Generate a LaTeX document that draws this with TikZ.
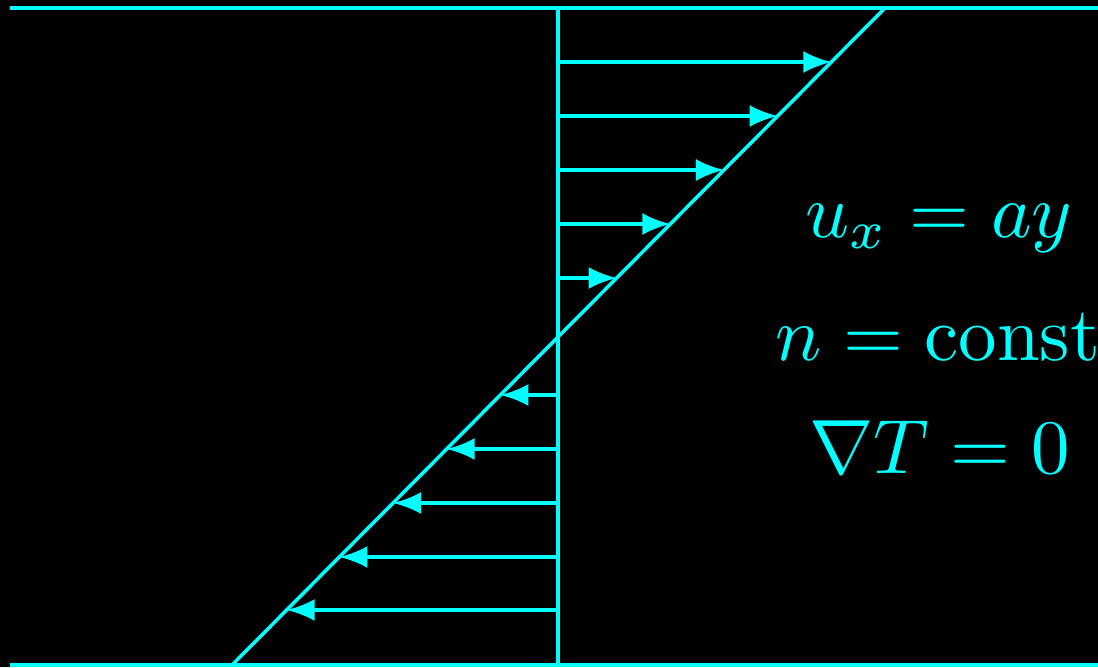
\documentclass[tikz,border=0pt]{standalone}
\usetikzlibrary{arrows.meta}
\definecolor{cy}{RGB}{0,255,255}
\tikzset{
  wall/.style={draw=cy, line width=4pt},
  flowarrow/.style={draw=cy, line width=3.5pt, -{Latex[length=28pt,width=22pt]}},
  eqlabel/.style={text=cy, anchor=base, inner sep=0pt, scale=7.7}
}
\begin{document}
\begin{tikzpicture}[x=1pt,y=-1pt]
\fill[black] (0,0) rectangle (1098,667);
\useasboundingbox (0,0) rectangle (1098,667);
\coordinate (tl) at (10,8);
\coordinate (tr) at (1100,8);
\coordinate (bl) at (10,665);
\coordinate (br) at (1100,665);
\coordinate (vt) at (558,8);
\coordinate (vb) at (558,665);
\coordinate (dt) at (885,8);
\coordinate (db) at (232,665);
\draw[wall] (tl) -- (tr);
\draw[wall] (bl) -- (br);
\draw[cy, line width=3.5pt] (vt) -- (vb);
\draw[cy, line width=3.5pt] (db) -- (dt);
\foreach \i/\y in {1/62,2/116,3/170,4/224,5/278,6/395,7/449,8/503,9/557,10/610}{
  \coordinate (s\i) at (558,\y);
  \coordinate (e\i) at ({232+(665-\y)*0.99391},\y);
  \draw[flowarrow] (s\i) -- (e\i);
}
\node[eqlabel] (eq1) at (939,237) {$u_x = ay$};
\node[eqlabel] (eq2) at (938,360) {$n = \mathrm{const}$};
\node[eqlabel] (eq3) at (940,473) {$\nabla T = 0$};
\end{tikzpicture}
\end{document}
